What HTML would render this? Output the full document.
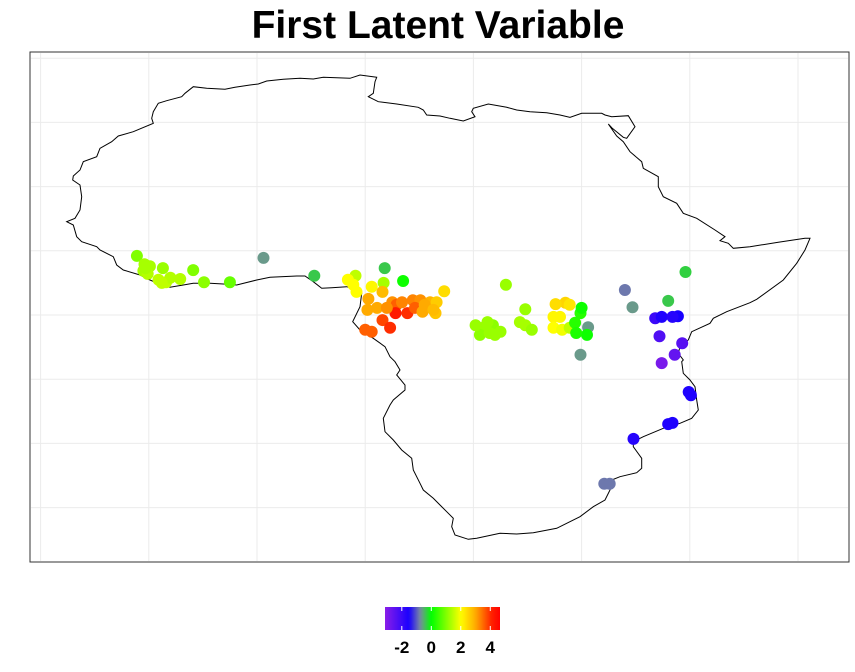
<!DOCTYPE html>
<html><head><meta charset="utf-8"><style>
body{margin:0;background:#fff;font-family:"Liberation Sans",sans-serif}
svg{display:block}
</style></head><body>
<svg id="chart" width="855" height="672" viewBox="0 0 855 672">
<text x="438" y="38" text-anchor="middle" font-size="39" font-weight="bold" font-family="Liberation Sans, sans-serif">First Latent Variable</text>
<rect x="30" y="52" width="819" height="510" fill="#fff" stroke="#333" stroke-width="1"/>
<g id="grid"></g>
<path id="africa" fill="none" stroke="#000" stroke-width="1"/>
<g id="pts"></g>
<defs><linearGradient id="lg" x1="0" x2="1" y1="0" y2="0"></linearGradient></defs>
<g id="legend"></g>
</svg>
<script>
const lons=[-11.1,-10.4,-9.9,-10.5,-10.1,-8.7,-9.1,-8.4,-8.0,-7.1,-5.9,-4.9,-2.5,0.6,5.3,
11.8,9.1,8.4,8.9,9.2,10.6,11.7,13.5,11.6,17.3,10.3,10.2,11.1,12.5,12.9,12.8,13.9,14.4,15.1,14.6,15.3,16.0,16.6,16.5,11.6,12.3,10.0,10.6,23.0,
20.9,21.8,22.5,20.6,21.5,24.8,24.8,25.4,
28.5,28.9,27.4,28.0,27.4,28.2,28.9,29.9,30.0,29.4,30.6,30.5,29.5,29.9,
34.0,34.7,38.0,39.6,36.8,37.4,38.9,37.2,39.3,38.6,37.4,40.1,38.4,34.8,32.1,32.6,
20.2,21.3,22.0,24.3,12.0,15.5,13.4,16.3,-10.3,-8.8,38.4,39.9,38.0,27.6];
const lats=[9.2,7.9,7.6,6.9,6.4,7.3,5.5,5.1,5.8,5.6,7.0,5.1,5.1,8.9,6.1,
7.3,6.1,5.5,4.7,3.6,4.4,5.0,5.3,3.6,3.7,2.5,0.8,1.1,2.0,1.6,0.3,0.3,2.3,2.3,1.1,0.5,2.0,2.0,0.3,-0.8,-2.0,-2.3,-2.6,4.7,
-2.0,-1.6,-2.6,-3.1,-2.8,0.9,-1.6,-2.3,
1.9,1.6,-0.3,-0.3,-2.0,-2.3,-2.0,0.3,1.1,-1.2,-1.9,-3.1,-2.8,-6.2,
3.9,1.2,2.2,6.7,-0.5,-0.3,-0.2,-3.3,-4.4,-6.2,-7.5,-12.5,-16.8,-19.3,-26.3,-26.3,
-1.6,-1.1,-3.1,-1.1,1.1,1.6,2.0,0.8,7.3,5.0,-0.3,-12.0,-17.0,1.7];
const values=[1.0,1.3,1.3,1.3,1.4,1.2,1.5,1.5,1.4,1.4,1.0,1.1,0.8,-0.65,-0.35,
-0.35,1.5,2.0,2.0,2.0,2.1,1.3,0.1,2.8,2.4,3.0,3.0,3.0,3.2,3.6,4.2,4.0,3.3,3.2,3.6,3.0,2.9,2.6,2.7,3.8,4.0,3.6,3.6,1.2,
1.2,1.1,1.2,1.1,1.2,1.2,1.3,1.2,
2.5,2.3,2.1,2.1,2.0,1.9,1.5,0.3,0.1,0.3,-0.65,0.1,0.2,-0.65,
-0.85,-0.65,-0.35,-0.3,-2.0,-1.6,-1.5,-2.3,-2.4,-2.6,-2.9,-1.6,-1.6,-1.7,-0.85,-0.85,
1.2,1.2,1.2,1.3,3.2,3.0,3.3,2.8,1.3,1.5,-1.7,-1.6,-1.6,2.4];
const legendTicks=[-2,0,2,4];
const lonGrid=[-20,-10,0,10,20,30,40,50];
const latGrid=[40,30,20,10,0,-10,-20,-30];

const NS='http://www.w3.org/2000/svg';
const xS=lon=>257+lon*10.82;
const yS=lat=>315-lat*6.42;
const vMin=-3.14,vMax=4.66;
const lS=v=>385+(v-vMin)/(vMax-vMin)*115;
const stops=[[-3.14,[138,30,232]],[-1.5,[24,0,255]],[-0.75,[122,138,160]],[0,[0,255,0]],[2,[255,255,0]],[3,[255,170,0]],[4.1,[255,32,0]],[4.66,[255,0,0]]];
function col(v){
  if(v<=stops[0][0])return 'rgb('+stops[0][1]+')';
  for(let i=1;i<stops.length;i++){
    if(v<=stops[i][0]){const a=stops[i-1],b=stops[i],t=(v-a[0])/(b[0]-a[0]);
      return 'rgb('+a[1].map((c,k)=>Math.round(c+(b[1][k]-c)*t)).join(',')+')';}
  }
  return 'rgb(255,0,0)';
}
const g=document.getElementById('grid');
lonGrid.forEach(l=>{const e=document.createElementNS(NS,'line');
e.setAttribute('x1',xS(l));e.setAttribute('x2',xS(l));e.setAttribute('y1',53);e.setAttribute('y2',561);
e.setAttribute('stroke','#ebebeb');e.setAttribute('stroke-width','1');


g.appendChild(e);});
latGrid.forEach(l=>{const e=document.createElementNS(NS,'line');
e.setAttribute('y1',yS(l));e.setAttribute('y2',yS(l));e.setAttribute('x1',31);e.setAttribute('x2',848);
e.setAttribute('stroke','#ebebeb');e.setAttribute('stroke-width','1');


g.appendChild(e);});

const outline=[[376.7,77.3],[360,75],[350,78.3],[323.3,77.3],[313.3,79],[300,78.3],[283.3,79.3],[266.7,81],[258.3,84],[250,85],[235,87.3],[225,89.3],[206.7,88.3],[193.3,86.7],[185,93.3],[181.7,96.7],[166.7,100.7],[158.3,103.3],[153.3,111.7],[151.7,118.3],[153.3,123.3],[133.3,131.7],[118.3,136],[111.7,141.7],[100,148.3],[96.7,156.7],[83.3,161.7],[80,170],[73.3,176],[72.7,180],[80,185],[81.7,196.7],[80,210],[75,218.3],[66.7,221.7],[73.3,225],[76.7,236.7],[81.7,241.7],[96.7,246.7],[100,250],[113.3,256.7],[116.7,265],[123.3,270],[140,275],[150,280],[161.7,285],[170,287.3],[183.3,285],[193.3,283.3],[210,283.3],[223.3,284],[236.7,285],[256.7,280],[270,277.3],[296.7,276],[305,276],[313.3,281.7],[321.7,288.3],[331.7,287.7],[346.7,286.7],[356.7,290],[361.7,293.3],[360,306.7],[352.7,321.7],[360,330],[373.3,338.3],[385,346.7],[390,356.7],[395,361.7],[400,370],[396.7,375],[405,385],[405,390],[393.3,400],[390,405],[383.3,418.3],[385,431.7],[393.3,440],[401.7,450],[411.7,458.3],[413.3,470],[420,483.3],[423.3,490],[433.3,498.3],[440,505],[446.7,511.7],[453.3,518.3],[451.7,526.7],[455,535],[468.3,539.3],[476.7,538.3],[500,533.3],[516.7,534],[533.3,532.7],[556.7,528.3],[580,516.7],[593.3,506.7],[605,500],[610,490],[611.7,480],[620,476.7],[636.7,472.7],[641.7,468.3],[641.7,458.3],[633.3,446.7],[633.3,441.7],[643.3,436.7],[663.3,428.3],[680,423.3],[691.7,418.3],[698.3,410],[696.7,400],[695,386.7],[690,380],[683.3,373.3],[681.7,361.7],[683.3,360],[678.3,353.3],[680,346.7],[688.3,340],[691.7,331.7],[710,323.3],[713.3,318.3],[726.7,311.7],[750,302.7],[756.7,299.3],[783.3,280],[796.7,263.3],[805,250],[810,238.3],[805,238.3],[778.3,242.3],[750,246.7],[733.3,248.3],[728.3,243.3],[720,240.7],[725,236.7],[715,230],[696.7,218.3],[683.3,213.3],[676.7,203.3],[663.3,196.7],[658.3,186.7],[658.3,176.7],[643.3,168.3],[641.7,161.7],[630,151.7],[623.3,141.7],[616.7,136],[608.3,124],[612,128],[623.3,137.3],[626.7,138.3],[635,126.7],[628.3,115.7],[611.7,116.7],[605,115],[601.7,113.3],[581.7,113.3],[570,117.3],[560,115],[546.7,112.7],[530,111.7],[516.7,110],[506.7,107.3],[488.3,104],[473.3,108.3],[471.7,111.7],[475,116.7],[463.3,121],[450,118.3],[440,116],[426.7,115],[423.3,110],[418.3,107.3],[396.7,104],[378.3,101.7],[368.3,96.7],[373.3,93.3],[375,81.7]];
document.getElementById('africa').setAttribute('d','M'+outline.map(p=>p.join(',')).join('L')+'Z');

const pg=document.getElementById('pts');
lons.forEach((lon,i)=>{const c=document.createElementNS(NS,'circle');
c.setAttribute('cx',xS(lon).toFixed(1));c.setAttribute('cy',yS(lats[i]).toFixed(1));c.setAttribute('r','6');
c.setAttribute('fill',col(values[i]));


pg.appendChild(c);});

const lg=document.getElementById('lg');
for(let k=0;k<=40;k++){const v=vMin+(vMax-vMin)*k/40;const s=document.createElementNS(NS,'stop');
s.setAttribute('offset',(k/40*100)+'%');s.setAttribute('stop-color',col(v));lg.appendChild(s);}
const L=document.getElementById('legend');
const bar=document.createElementNS(NS,'rect');
bar.setAttribute('x',385);bar.setAttribute('y',607);bar.setAttribute('width',115);bar.setAttribute('height',23);bar.setAttribute('fill','url(#lg)');


L.appendChild(bar);
legendTicks.forEach(t=>{const x=lS(t);
[[607,611],[626,630]].forEach(yy=>{const l=document.createElementNS(NS,'line');
l.setAttribute('x1',x);l.setAttribute('x2',x);l.setAttribute('y1',yy[0]);l.setAttribute('y2',yy[1]);l.setAttribute('stroke','#fff');l.setAttribute('stroke-width','1');


L.appendChild(l);});
const tx=document.createElementNS(NS,'text');
tx.setAttribute('x',x);tx.setAttribute('y',653);tx.setAttribute('text-anchor','middle');tx.setAttribute('font-size','17');tx.setAttribute('font-weight','bold');tx.setAttribute('font-family','Liberation Sans, sans-serif');
tx.textContent=t;


L.appendChild(tx);});
</script>
</body></html>
